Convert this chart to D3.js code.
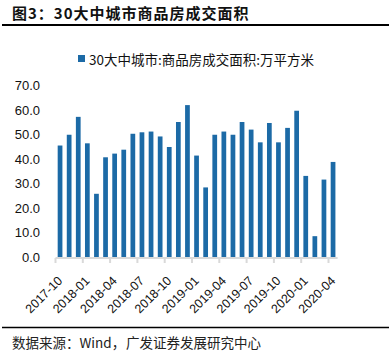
<!DOCTYPE html>
<html>
<head>
<meta charset="utf-8">
<script src="https://cdn.jsdelivr.net/npm/d3@7/dist/d3.min.js"></script>
<style>
  html, body { margin: 0; padding: 0; background: #fff; }
  svg { display: block; }
</style>
</head>
<body>
<svg id="chart" width="389" height="354"></svg>
<script>
const months = ["2017-10","2017-11","2017-12","2018-01","2018-02","2018-03","2018-04","2018-05","2018-06","2018-07","2018-08","2018-09","2018-10","2018-11","2018-12","2019-01","2019-02","2019-03","2019-04","2019-05","2019-06","2019-07","2019-08","2019-09","2019-10","2019-11","2019-12","2020-01","2020-02","2020-03","2020-04"];
const areaValues = [45.5,49.9,57.2,46.4,25.8,40.7,42.2,43.8,50.3,50.9,51.2,49.2,44.9,55.1,62.0,41.4,28.4,49.9,51.2,49.9,55.1,52.0,46.8,54.7,46.8,52.7,59.7,33.1,8.5,31.6,38.8];
const yTicks = [0,10,20,30,40,50,60,70];
const xTickLabels = ["2017-10","2018-01","2018-04","2018-07","2018-10","2019-01","2019-04","2019-07","2019-10","2020-01","2020-04"];
const titleText = "图3：30大中城市商品房成交面积";
const legendText = "30大中城市:商品房成交面积:万平方米";
const sourceHead = "数据来源：Wind，";
const sourceTail = "广发证券发展研究中心";

const svg = d3.select("#chart");
const latin = "'Liberation Sans', Arial, 'Noto Sans CJK SC', sans-serif";
const cjk = "'Noto Sans CJK SC', 'Liberation Sans', sans-serif";
const barColor = "#1c6aa6";

const x = d3.scaleBand().domain(months).range([55.5, 337.6]).paddingInner(0.48).paddingOuter(0.24);
const y = d3.scaleLinear().domain([0, 70]).range([257, 85.5]);

// title
svg.append("text").attr("x", 12).attr("y", 18.5)
  .attr("font-family", cjk).attr("font-weight", "bold").attr("font-size", 15)
  .attr("letter-spacing", 1).attr("fill", "#111").text(titleText);
svg.append("line").attr("x1", 2).attr("x2", 389).attr("y1", 25).attr("y2", 25)
  .attr("stroke", "#000").attr("stroke-width", 2);

// legend
svg.append("rect").attr("x", 78).attr("y", 55).attr("width", 7).attr("height", 7).attr("fill", barColor);
svg.append("text").attr("x", 89).attr("y", 58.5).attr("dominant-baseline", "central")
  .attr("font-family", cjk).attr("font-size", 13.5).attr("fill", "#111").text(legendText);

// bars
svg.append("g").selectAll("rect").data(areaValues).join("rect")
  .attr("x", (d, i) => x(months[i]))
  .attr("width", x.bandwidth())
  .attr("y", d => y(d))
  .attr("height", d => y(0) - y(d))
  .attr("fill", barColor);

// y axis
const yAxis = svg.append("g").attr("transform", "translate(40,0)")
  .call(d3.axisLeft(y).tickValues(yTicks).tickFormat(d3.format(".1f")).tickSize(0).tickPadding(0));
yAxis.select(".domain").remove();
yAxis.selectAll("text").attr("font-family", latin).attr("font-size", 13).attr("fill", "#111");

// x axis
const step = x.step();
const x0 = x.range()[0];
const xAxis = svg.append("g").attr("transform", `translate(0,${y(0) + 1})`)
  .call(d3.axisBottom(x).tickValues(xTickLabels).tickSize(0));
xAxis.select(".domain").remove();
xAxis.append("line").attr("x1", x0).attr("x2", x.range()[1]).attr("y1", 0).attr("y2", 0)
  .attr("stroke", "#d9d9d9").attr("stroke-width", 2);
xAxis.selectAll(".bmark").data(d3.range(0, 31, 3)).join("line").attr("class", "bmark")
  .attr("x1", i => x0 + i * step).attr("x2", i => x0 + i * step)
  .attr("y1", 0).attr("y2", 5).attr("stroke", "#d9d9d9").attr("stroke-width", 2);
xAxis.selectAll(".tick text")
  .attr("font-family", latin).attr("font-size", 12.5).attr("fill", "#111")
  .attr("text-anchor", "end").attr("dy", null).attr("y", null)
  .attr("transform", "translate(3,23.5) rotate(-45)");

// bottom rule and source
svg.append("line").attr("x1", 2).attr("x2", 389).attr("y1", 327.5).attr("y2", 327.5)
  .attr("stroke", "#000").attr("stroke-width", 1.5);
const src = svg.append("text").attr("y", 347.5)
  .attr("font-family", cjk).attr("font-size", 13.5).attr("fill", "#222");
src.append("tspan").attr("x", 12).text(sourceHead);
src.append("tspan").attr("x", 126).text(sourceTail);
</script>
</body>
</html>
